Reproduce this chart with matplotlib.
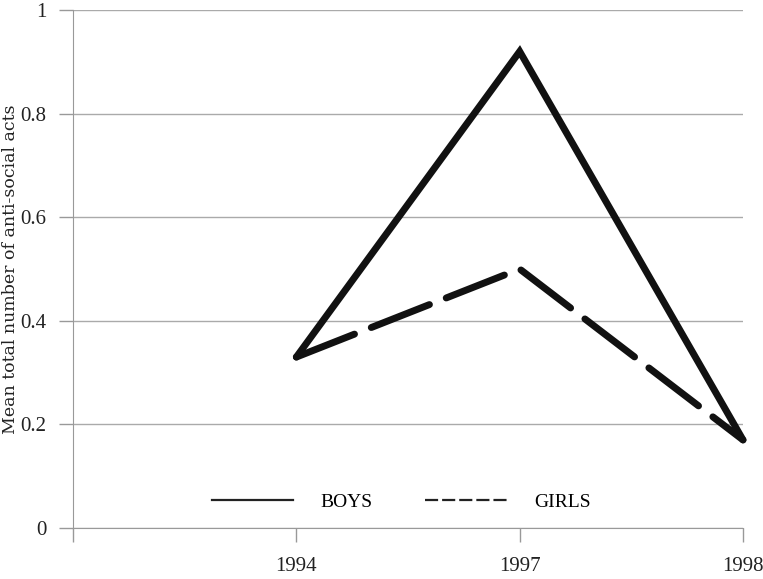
import matplotlib.pyplot as plt
from matplotlib.lines import Line2D

# values
years = ['', '1994', '1997', '1998']
boys = [0.33, 0.92, 0.17]
girls = [0.33, 0.50, 0.17]

plt.rcParams['font.family'] = ['Liberation Serif', 'DejaVu Serif']

fig = plt.figure(figsize=(7.63, 5.79), dpi=100)
ax = fig.add_axes([0.0957, 0.0881, 0.8781, 0.8946])

xs = list(range(1, len(years)))
ax.plot(xs, boys, color='#111111', lw=5, solid_capstyle='round',
        solid_joinstyle='miter', clip_on=False, zorder=3)
ax.plot(xs, girls, color='#111111', lw=5, dashes=(9, 2.6),
        dash_capstyle='round', clip_on=False, zorder=3)

ax.set_xlim(0, 3)
ax.set_ylim(0, 1)
ax.set_xticks(range(len(years)))
ax.set_xticklabels(years)
ax.set_yticks([0, 0.2, 0.4, 0.6, 0.8, 1.0])
ax.set_yticklabels(['0', '0.2', '0.4', '0.6', '0.8', '1'])
ax.yaxis.grid(True, color='#aaaaaa', lw=1)
ax.set_axisbelow(True)

for s in ['top', 'right']:
    ax.spines[s].set_visible(False)
for s in ['left', 'bottom']:
    ax.spines[s].set_color('#999999')
ax.tick_params(axis='both', colors='#999999', length=10, width=1,
               labelcolor='#222222', labelsize=15)
ax.tick_params(axis='x', pad=11)
ax.tick_params(axis='y', pad=9)

ax.set_ylabel('Mean total number of anti-social acts', fontsize=12.5,
              family='DejaVu Serif', color='#222222', labelpad=0)
ax.yaxis.set_label_coords(-0.08, 0.5)

handles = [Line2D([], [], color='#222222', lw=1.6),
           Line2D([], [], color='#222222', lw=1.6, dashes=(5.9, 1.8))]
ax.legend(handles, ['BOYS', 'GIRLS'], loc='center',
          bbox_to_anchor=(0.49, 0.05), ncol=2, frameon=False,
          handlelength=4.2, handletextpad=1.4, columnspacing=2.7,
          fontsize=14)

fig.savefig('out.png', dpi=100)
